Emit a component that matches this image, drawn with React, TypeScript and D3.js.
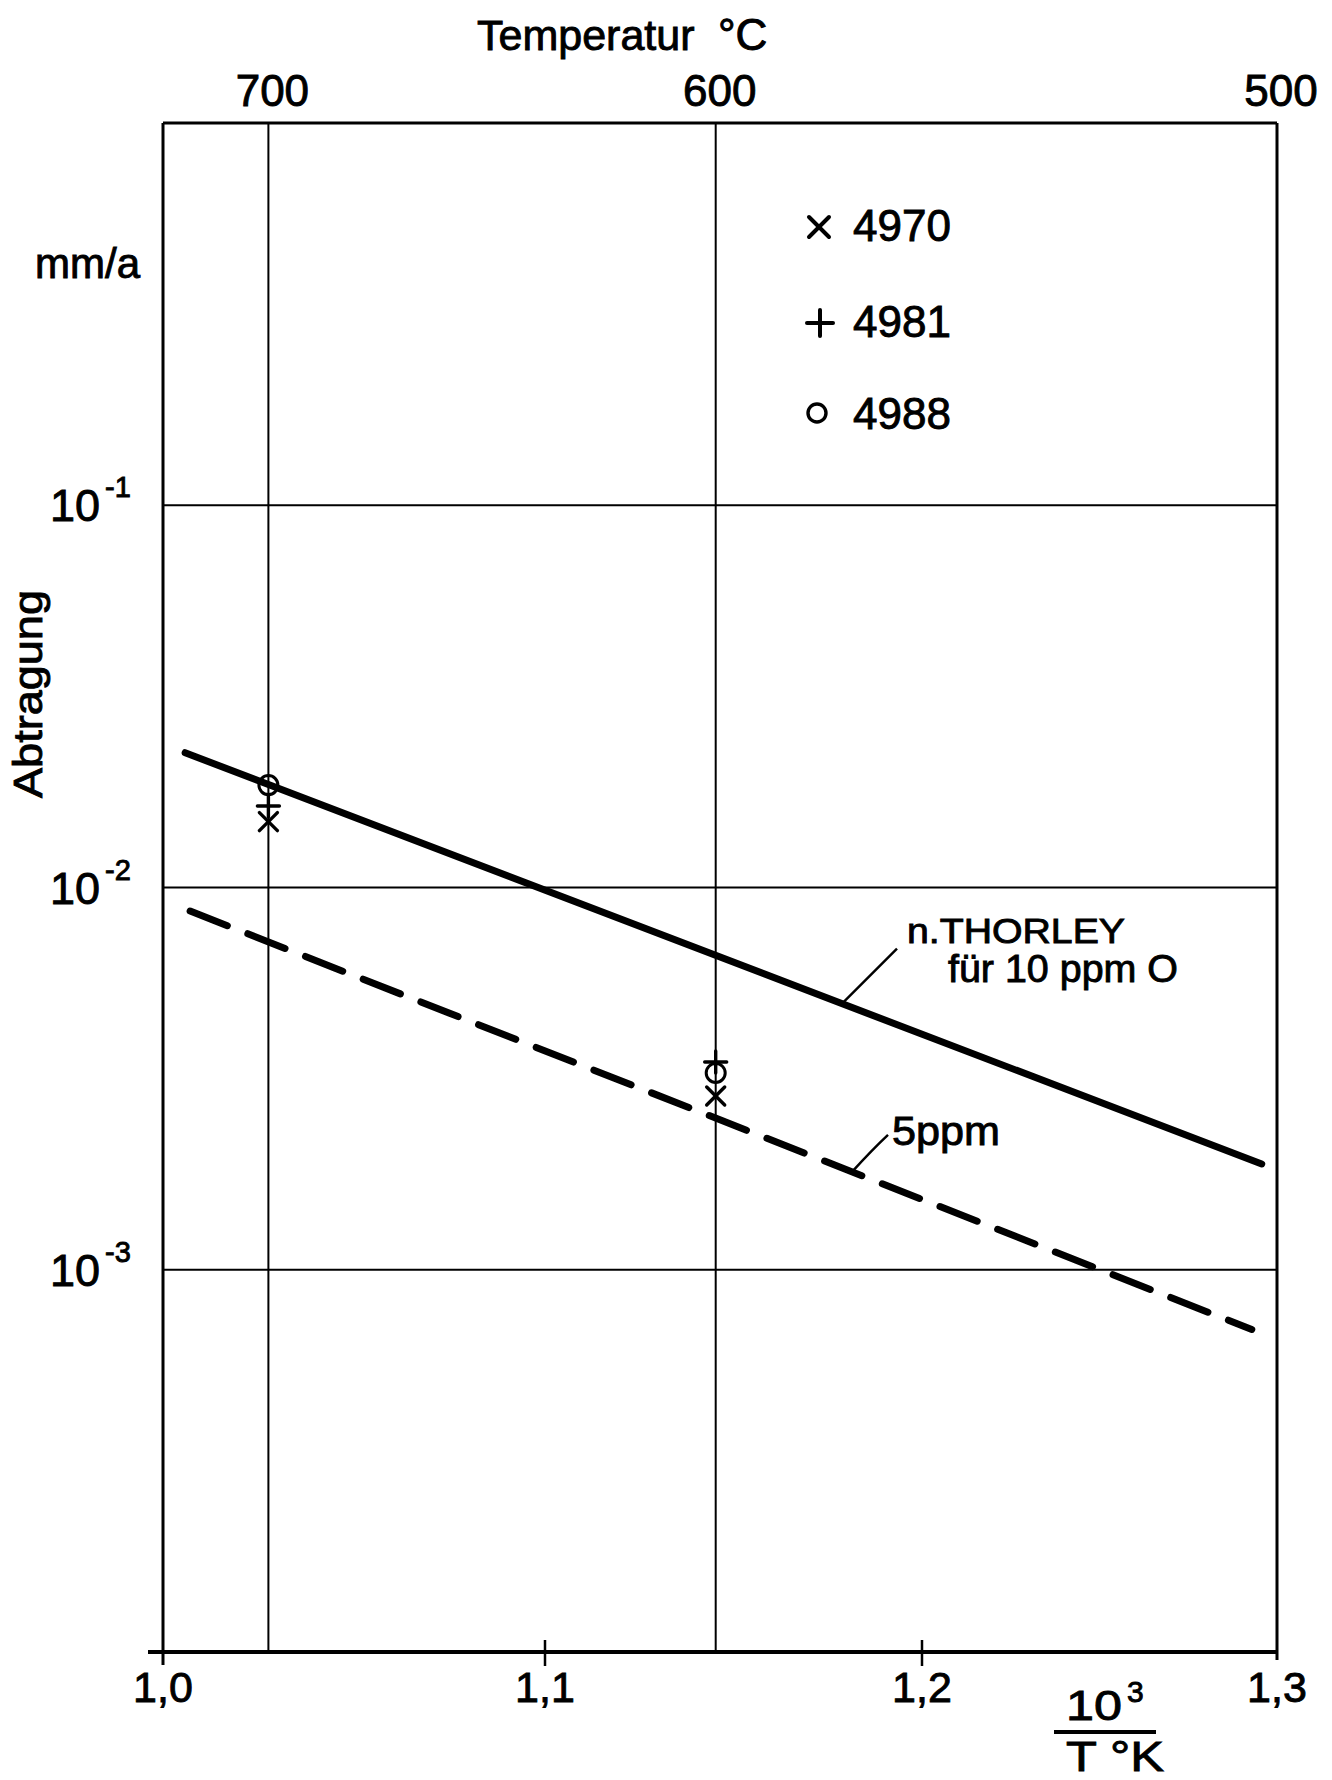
import React from "react";
import * as d3 from "d3";

// ---- data ----
const xTicks = [1.0, 1.1, 1.2, 1.3];
const xTickLabels = ["1,0", "1,1", "1,2", "1,3"];
const yDecades = [1e-1, 1e-2, 1e-3];
const yExponents = ["-1", "-2", "-3"];
const tempTicks = [700, 600, 500];
const gridTemps = [700, 600];

// Thorley line for 10 ppm O (solid) and 5 ppm (dashed)
const thorleyX = [1.0058, 1.2957];
const thorleyY = [0.02252, 0.001891];
const ppm5X = [1.0071, 1.2929];
const ppm5Y = [0.00868, 0.000698];

// measured points at 700 and 600 °C
const pointTemps = [700, 600];
const s4970 = [0.01487, 0.002848];
const s4981 = [0.01634, 0.003495];
const s4988 = [0.01853, 0.003272];

const W = 1332;
const H = 1780;
const FONT = "'Liberation Sans', Arial, sans-serif";
const TS = { stroke: "#000", strokeWidth: 0.9 } as const;

const x = d3.scaleLinear().domain(xTicks).range([163, 545, 922, 1277]);
const y = d3.scaleLog().domain([1e-4, 1]).range([1652, 123]);
const inv = (t: number) => 1000 / (t + 273.15);
const tempX = d3
  .scaleLinear()
  .domain(tempTicks)
  .range([x(inv(700)), x(inv(600)), x(1.3)]);

const line = d3
  .line<[number, number]>()
  .x((d) => x(d[0]))
  .y((d) => y(d[1]));

function Cross({ cx, cy, r, w = 3.4 }: { cx: number; cy: number; r: number; w?: number }) {
  return (
    <g stroke="#000" strokeWidth={w} strokeLinecap="round">
      <line x1={cx - r} y1={cy - r} x2={cx + r} y2={cy + r} />
      <line x1={cx - r} y1={cy + r} x2={cx + r} y2={cy - r} />
    </g>
  );
}
function Plus({ cx, cy, r, w = 3.4 }: { cx: number; cy: number; r: number; w?: number }) {
  return (
    <g stroke="#000" strokeWidth={w} strokeLinecap="round">
      <line x1={cx - r} y1={cy} x2={cx + r} y2={cy} />
      <line x1={cx} y1={cy - r} x2={cx} y2={cy + r} />
    </g>
  );
}
function Ring({ cx, cy, r, w = 3 }: { cx: number; cy: number; r: number; w?: number }) {
  return <circle cx={cx} cy={cy} r={r} fill="none" stroke="#000" strokeWidth={w} />;
}

// point on a drawn two-point line at pixel x
function onLine(xs: number[], ys: number[], px: number): [number, number] {
  const x0 = x(xs[0]), x1 = x(xs[1]);
  const y0 = y(ys[0]), y1 = y(ys[1]);
  const t = (px - x0) / (x1 - x0);
  return [px, y0 + t * (y1 - y0)];
}

export default function App() {
  const left = x(1.0);
  const right = x(1.3);
  const top = y(1);
  const bottom = y(1e-4);

  const thorley = line(thorleyX.map((v, i) => [v, thorleyY[i]] as [number, number]));
  const ppm5 = line(ppm5X.map((v, i) => [v, ppm5Y[i]] as [number, number]));

  const aT = onLine(thorleyX, thorleyY, 842);
  const a5 = onLine(ppm5X, ppm5Y, 852);

  return (
    <svg
      width={W}
      height={H}
      viewBox={`0 0 ${W} ${H}`}
      style={{ position: "absolute", left: 0, top: 0, background: "#fff" }}
      fontFamily={FONT}
    >
      <rect x={0} y={0} width={W} height={H} fill="#fff" />

      {/* horizontal grid lines at decades */}
      {yDecades.map((d) => (
        <line key={d} x1={left} x2={right} y1={y(d)} y2={y(d)} stroke="#000" strokeWidth={2} />
      ))}
      {/* vertical grid lines at 700 and 600 °C */}
      {gridTemps.map((t) => (
        <line key={t} x1={x(inv(t))} x2={x(inv(t))} y1={top} y2={bottom} stroke="#000" strokeWidth={2} />
      ))}

      {/* frame */}
      <line x1={left} x2={right} y1={top} y2={top} stroke="#000" strokeWidth={3} />
      <line x1={left} x2={left} y1={top} y2={bottom + 13} stroke="#000" strokeWidth={3} />
      <line x1={right} x2={right} y1={top} y2={bottom + 8} stroke="#000" strokeWidth={3} />
      <line x1={left - 15} x2={right} y1={bottom} y2={bottom} stroke="#000" strokeWidth={4} />

      {/* x ticks */}
      {xTicks.slice(1, 3).map((t) => (
        <line key={t} x1={x(t)} x2={x(t)} y1={bottom - 12} y2={bottom + 14} stroke="#000" strokeWidth={2.5} />
      ))}

      <g fill="#000" {...TS}>
        {xTicks.map((t, i) => (
          <text key={t} x={x(t)} y={1702} fontSize={43} textAnchor="middle">
            {xTickLabels[i]}
          </text>
        ))}

        {/* y labels */}
        {yDecades.map((d, i) => (
          <g key={d}>
            <text x={100} y={y(d) + 16} fontSize={45} textAnchor="end">
              10
            </text>
            <text x={105} y={y(d) - 8} fontSize={29} textAnchor="start">
              {yExponents[i]}
            </text>
          </g>
        ))}

        {/* top temperature axis */}
        {tempTicks.map((t) => (
          <text key={t} x={tempX(t) + 4} y={106} fontSize={44} textAnchor="middle">
            {t}
          </text>
        ))}
        <text x={477} y={50} fontSize={43}>
          Temperatur
        </text>
        <text x={718} y={50} fontSize={44}>
          °C
        </text>

        {/* y axis titles */}
        <text x={35} y={278} fontSize={42}>
          mm/a
        </text>
        <text
          transform="translate(42,694) rotate(-90)"
          fontSize={40}
          textAnchor="middle"
          textLength={208}
          lengthAdjust="spacingAndGlyphs"
        >
          Abtragung
        </text>

        {/* x axis title 10^3 / T °K */}
        <text x={1066} y={1720} fontSize={42} textLength={56} lengthAdjust="spacingAndGlyphs">
          10
        </text>
        <text x={1127} y={1702} fontSize={30}>
          3
        </text>
        <text x={1066} y={1771} fontSize={42} textLength={98} lengthAdjust="spacingAndGlyphs">
          T °K
        </text>

        {/* annotations */}
        <text x={907} y={943} fontSize={35} textLength={218} lengthAdjust="spacingAndGlyphs">
          n.THORLEY
        </text>
        <text x={948} y={982} fontSize={38} textLength={230} lengthAdjust="spacingAndGlyphs">
          für 10 ppm O
        </text>
        <text x={892} y={1145} fontSize={40} textLength={108} lengthAdjust="spacingAndGlyphs">
          5ppm
        </text>

        {/* legend text */}
        <text x={853} y={241} fontSize={44}>4970</text>
        <text x={853} y={337} fontSize={44}>4981</text>
        <text x={853} y={429} fontSize={44}>4988</text>
      </g>

      <line x1={1054} x2={1156} y1={1732} y2={1732} stroke="#000" strokeWidth={4} />

      {/* lines */}
      <path d={thorley ?? ""} fill="none" stroke="#000" strokeWidth={7} strokeLinecap="round" />
      <path
        d={ppm5 ?? ""}
        fill="none"
        stroke="#000"
        strokeWidth={7}
        strokeLinecap="round"
        strokeDasharray="40 22"
      />

      {/* leaders */}
      <line x1={aT[0]} y1={aT[1]} x2={aT[0] + 55} y2={aT[1] - 55} stroke="#000" strokeWidth={2.5} />
      <path
        d={`M${a5[0]},${a5[1]} Q${a5[0] + 20},${a5[1] - 22} ${a5[0] + 36},${a5[1] - 37}`}
        fill="none"
        stroke="#000"
        strokeWidth={2.5}
      />

      {/* data points */}
      {pointTemps.map((t, i) => (
        <g key={t}>
          <Cross cx={x(inv(t))} cy={y(s4970[i])} r={9} />
          <Plus cx={x(inv(t))} cy={y(s4981[i])} r={11} />
          <Ring cx={x(inv(t))} cy={y(s4988[i])} r={9.5} />
        </g>
      ))}

      {/* legend symbols */}
      <Cross cx={819} cy={227} r={10} w={4} />
      <Plus cx={820} cy={323} r={13} w={4} />
      <Ring cx={817} cy={413} r={9} w={3.4} />
    </svg>
  );
}
